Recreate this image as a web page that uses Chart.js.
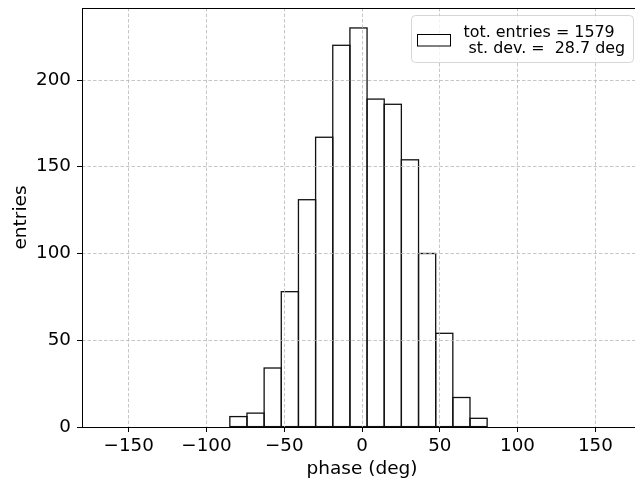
<!DOCTYPE html>
<html>
<head>
<meta charset="utf-8">
<script src="https://cdn.jsdelivr.net/npm/chart.js@4/dist/chart.umd.min.js"></script>
<style>
  html, body { margin: 0; padding: 0; background: #fff; overflow: hidden; }
  #wrap { width: 635px; height: 484px; overflow: hidden; }
  canvas { display: block; }
</style>
</head>
<body>
<div id="wrap"><canvas id="hist" width="643" height="484"></canvas></div>
<script>
// histogram data
const binEdges = [-84.97, -73.94, -62.91, -51.89, -40.86, -29.83, -18.80, -7.77,
                  3.25, 14.28, 25.31, 36.34, 47.37, 58.39, 69.42, 80.45];
const counts = [6, 8, 34, 78, 131, 167, 220, 230, 189, 186, 154, 100, 54, 17, 5];
const xTicks = [-150, -100, -50, 0, 50, 100, 150];
const yTicks = [0, 50, 100, 150, 200];
const legendLines = ['tot. entries = 1579', ' st. dev. =  28.7 deg'];

const FONT = 'DejaVu Sans';

const points = counts.map((c, i) => ({ x: (binEdges[i] + binEdges[i + 1]) / 2, y: c }));

// outlines like matplotlib: stroke centred on the bar edges
const barOutline = {
    id: 'barOutline',
    afterDatasetsDraw(chart) {
        const ctx = chart.ctx;
        const meta = chart.getDatasetMeta(0);
        ctx.save();
        ctx.strokeStyle = '#111';
        ctx.lineWidth = 1.3;
        meta.data.forEach(bar => {
            const p = bar.getProps(['x', 'y', 'base', 'width'], true);
            ctx.strokeRect(p.x - p.width / 2, p.y, p.width, p.base - p.y);
        });
        ctx.restore();
    }
};

const frameAndLegend = {
    id: 'frameAndLegend',
    afterDraw(chart) {
        const ctx = chart.ctx;
        const a = chart.chartArea;
        ctx.save();
        ctx.strokeStyle = '#000';
        ctx.lineWidth = 1;
        ctx.strokeRect(a.left + 0.5, a.top + 0.5, a.right - a.left, a.bottom - a.top);

        // legend box
        const bx = 411.5, by = 15.5, bw = 222, bh = 47, r = 4;
        ctx.beginPath();
        ctx.roundRect(bx, by, bw, bh, r);
        ctx.fillStyle = 'rgba(255,255,255,0.8)';
        ctx.fill();
        ctx.strokeStyle = 'rgba(204,204,204,0.8)';
        ctx.stroke();

        ctx.fillStyle = '#fff';
        ctx.strokeStyle = '#000';
        ctx.fillRect(417.5, 34.5, 33, 11.5);
        ctx.strokeRect(417.5, 34.5, 33, 11.5);

        ctx.fillStyle = '#000';
        ctx.font = '15.9px "' + FONT + '"';
        ctx.textAlign = 'left';
        ctx.textBaseline = 'alphabetic';
        ctx.fillText(legendLines[0], 463.5, 36.7);
        ctx.fillText(legendLines[1], 463.5, 53.4);
        ctx.restore();
    }
};

function noPad(s) {
    s.paddingTop = 0; s.paddingBottom = 0; s.paddingLeft = 0; s.paddingRight = 0;
}

new Chart(document.getElementById('hist'), {
    type: 'bar',
    data: {
        datasets: [{
            label: legendLines.join('\n'),
            data: points,
            backgroundColor: '#fff',
            borderWidth: 0,
            barPercentage: 1,
            categoryPercentage: 1
        }]
    },
    options: {
        responsive: false,
        animation: false,
        events: [],
        layout: { padding: { top: 8, right: 1, left: 0, bottom: 0 } },
        plugins: { legend: { display: false }, tooltip: { enabled: false } },
        scales: {
            x: {
                type: 'linear',
                min: -180,
                max: 180,
                offset: false,
                afterFit(s) { s.height = 57; noPad(s); },
                afterBuildTicks(s) { s.ticks = xTicks.map(v => ({ value: v })); },
                ticks: {
                    color: '#000',
                    font: { family: FONT, size: 18.3 },
                    padding: 3,
                    maxRotation: 0,
                    callback: v => String(v).replace('-', '\u2212')
                },
                grid: { z: 1, offset: false, color: '#b8b8b8', lineWidth: 0.8, tickColor: '#000', tickLength: 5, tickWidth: 1 },
                border: { display: false, dash: [3.5, 2] },
                title: {
                    display: true, text: 'phase (deg)', color: '#000',
                    font: { family: FONT, size: 18.5 }, padding: { top: 0, bottom: 4 }
                }
            },
            y: {
                min: 0,
                max: 241.5,
                afterFit(s) { s.width = 82; noPad(s); },
                afterBuildTicks(s) { s.ticks = yTicks.map(v => ({ value: v })); },
                ticks: {
                    color: '#000',
                    font: { family: FONT, size: 18.3 },
                    padding: 6
                },
                grid: { z: 1, offset: false, color: '#b8b8b8', lineWidth: 0.8, tickColor: '#000', tickLength: 5, tickWidth: 1 },
                border: { display: false, dash: [3.5, 2] },
                title: {
                    display: true, text: 'entries', color: '#000',
                    font: { family: FONT, size: 18.5 }, padding: { top: 10, bottom: 0 }
                }
            }
        }
    },
    plugins: [barOutline, frameAndLegend]
});
</script>
</body>
</html>
